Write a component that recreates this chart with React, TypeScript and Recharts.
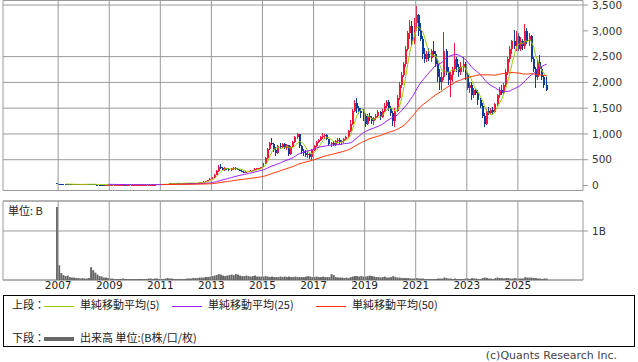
import {
  Bar,
  CartesianGrid,
  ComposedChart,
  Line,
  ReferenceArea,
  ReferenceLine,
  XAxis,
  YAxis,
} from "recharts";

// monthly candles [open, high, low, close], starting Dec 2006
const START_YEAR = 2006;
const START_MONTH = 12;

const candles2006to2010: number[][] = [
  [40, 50, 30, 35],
  [35, 38, 30, 32], [32, 34, 29, 30], [30, 32, 27, 28], [28, 30, 26, 27], [27, 28, 24, 25], [25, 27, 23, 24],
  [24, 25, 21, 22], [22, 24, 21, 22], [22, 23, 20, 21], [21, 22, 19, 20], [20, 21, 19, 20], [20, 23, 19, 22],
  [22, 27, 21, 25], [25, 30, 24, 28], [28, 29, 23, 24], [24, 25, 21, 22], [22, 23, 19, 20], [20, 21, 18, 19],
  [19, 20, 17, 18], [18, 19, 16, 17], [17, 18, 15, 16], [16, 17, 14, 15], [15, 16, 14, 15], [15, 16, 14, 15],
  [15, 16, 14, 15], [15, 16, 14, 15], [15, 17, 14, 16], [16, 17, 15, 16], [16, 18, 15, 17], [17, 18, 16, 17],
  [17, 18, 16, 17], [17, 18, 15, 16], [16, 17, 15, 16], [16, 17, 15, 16], [16, 18, 15, 17], [17, 18, 16, 17],
  [17, 18, 16, 17], [17, 18, 16, 17], [17, 19, 16, 18], [18, 19, 17, 18], [18, 19, 17, 18], [18, 19, 17, 18],
  [18, 19, 17, 18], [18, 19, 17, 18], [18, 20, 17, 19], [19, 20, 18, 19], [19, 21, 18, 20], [20, 21, 19, 20],
];

const candles2011to2015: number[][] = [
  [20, 22, 19, 21], [21, 24, 20, 22], [22, 28, 21, 26], [26, 38, 25, 35], [35, 46, 33, 42], [42, 48, 40, 45],
  [45, 47, 41, 44], [44, 45, 40, 42], [42, 43, 38, 40], [40, 44, 39, 42], [42, 47, 41, 45], [45, 50, 44, 48],
  [48, 52, 46, 50], [50, 53, 45, 48], [48, 50, 44, 46], [46, 48, 43, 45], [45, 52, 44, 50], [50, 57, 49, 55],
  [55, 62, 54, 60], [60, 68, 58, 65], [65, 78, 63, 75], [75, 88, 72, 85], [85, 105, 82, 100], [100, 140, 98, 130],
  [130, 170, 125, 160], [160, 230, 150, 210], [210, 300, 200, 280], [280, 400, 270, 350], [350, 410, 320, 340], [340, 360, 290, 310],
  [310, 350, 290, 330], [330, 345, 300, 320], [320, 330, 280, 300], [300, 340, 290, 330], [330, 360, 310, 340], [340, 355, 300, 320],
  [320, 340, 300, 310], [310, 320, 280, 290], [290, 300, 260, 270], [270, 280, 240, 255], [255, 275, 245, 270], [270, 290, 260, 280],
  [280, 300, 270, 290], [290, 310, 280, 300], [300, 330, 290, 320], [320, 340, 305, 330], [330, 345, 315, 335], [335, 360, 325, 350],
  [350, 460, 340, 440], [440, 560, 420, 540], [540, 720, 520, 700], [700, 850, 680, 820], [820, 920, 780, 800], [800, 820, 650, 680],
  [680, 740, 580, 640], [640, 780, 620, 760], [760, 820, 700, 740], [740, 830, 720, 800], [800, 820, 700, 720], [720, 800, 680, 780],
];

const candles2016to2020: number[][] = [
  [780, 790, 580, 620], [620, 760, 600, 740], [740, 860, 720, 840], [840, 960, 820, 940], [940, 1020, 900, 990], [990, 1000, 720, 760],
  [760, 780, 620, 660], [660, 700, 580, 640], [640, 680, 560, 600], [600, 660, 540, 620], [620, 640, 520, 560], [560, 700, 500, 680],
  [680, 780, 660, 760], [760, 860, 740, 840], [840, 900, 820, 880], [880, 960, 860, 940], [940, 1010, 900, 960], [960, 1000, 900, 980],
  [980, 990, 880, 900], [900, 910, 760, 800], [800, 850, 740, 820], [820, 860, 760, 780], [780, 880, 770, 860], [860, 920, 820, 880],
  [880, 920, 800, 840], [840, 880, 780, 860], [860, 920, 820, 900], [900, 960, 880, 940], [940, 1080, 920, 1060], [1060, 1280, 1040, 1200],
  [1200, 1480, 1180, 1450], [1450, 1650, 1420, 1600], [1600, 1690, 1400, 1500], [1500, 1550, 1380, 1450], [1450, 1500, 1300, 1400], [1400, 1480, 1250, 1350],
  [1350, 1400, 1130, 1200], [1200, 1380, 1180, 1350], [1350, 1400, 1250, 1300], [1300, 1350, 1200, 1250], [1250, 1320, 1180, 1300], [1300, 1380, 1270, 1350],
  [1350, 1460, 1300, 1420], [1420, 1450, 1280, 1320], [1320, 1480, 1300, 1450], [1450, 1600, 1420, 1550], [1550, 1660, 1500, 1620], [1620, 1650, 1450, 1500],
  [1500, 1550, 1350, 1400], [1400, 1450, 1150, 1250], [1250, 1500, 1130, 1450], [1450, 1750, 1420, 1700], [1700, 2000, 1650, 1950], [1950, 2200, 1900, 2150],
  [2150, 2400, 2100, 2350], [2350, 2700, 2300, 2650], [2650, 3000, 2600, 2950], [2950, 3210, 2850, 3100], [3100, 3200, 2700, 2800], [2800, 3250, 2750, 3150],
];

const candles2021to2026: number[][] = [
  [3150, 3480, 3000, 3300], [3300, 3320, 2900, 3000], [3000, 3150, 2800, 2850], [2850, 2900, 2450, 2550], [2550, 2660, 2370, 2450], [2450, 2600, 2400, 2550],
  [2550, 2660, 2420, 2480], [2480, 2650, 2400, 2600], [2600, 2800, 2500, 2550], [2550, 2600, 2300, 2350], [2350, 2450, 2000, 2100], [2100, 2250, 1850, 2000],
  [2000, 2200, 1850, 2100], [2100, 2980, 2050, 2600], [2600, 2650, 2150, 2200], [2200, 2300, 1950, 2050], [2050, 2200, 1710, 2150], [2150, 2300, 2000, 2250],
  [2250, 2760, 2200, 2450], [2450, 2500, 2200, 2300], [2300, 2350, 2100, 2200], [2200, 2400, 2150, 2300], [2300, 2500, 2200, 2350], [2350, 2400, 2050, 2150],
  [2150, 2200, 1850, 1900], [1900, 2000, 1800, 1950], [1950, 2000, 1650, 1750], [1750, 1900, 1700, 1850], [1850, 1900, 1750, 1800], [1800, 1850, 1560, 1650],
  [1650, 1700, 1500, 1550], [1550, 1600, 1300, 1350], [1350, 1400, 1130, 1200], [1200, 1480, 1180, 1450], [1450, 1520, 1360, 1400], [1400, 1500, 1380, 1460],
  [1460, 1520, 1380, 1420], [1420, 1600, 1400, 1580], [1580, 1780, 1550, 1750], [1750, 1910, 1700, 1850], [1850, 1950, 1750, 1800], [1800, 1980, 1780, 1950],
  [1950, 2250, 1920, 2200], [2200, 2500, 2150, 2450], [2450, 2700, 2400, 2650], [2650, 2830, 2550, 2800], [2800, 3020, 2650, 2700], [2700, 3000, 2600, 2900],
  [2900, 2950, 2600, 2650], [2650, 2880, 2600, 2800], [2800, 2850, 2620, 2700], [2700, 3130, 2650, 3000], [3000, 3050, 2750, 2800], [2800, 2960, 2700, 2900],
  [2900, 2920, 2400, 2450], [2450, 2500, 2200, 2250], [2250, 2300, 1890, 2100], [2100, 2450, 2050, 2400], [2400, 2530, 2150, 2250], [2250, 2300, 2050, 2100],
  [2100, 2150, 1900, 1950], [1950, 2100, 1830, 1850],
];

// monthly volume, in billions of shares
const volumes: number[] = [
  1.49,
  0.3, 0.14, 0.1, 0.08, 0.09, 0.06, 0.05, 0.05, 0.04, 0.04, 0.03, 0.04,
  0.03, 0.03, 0.04, 0.26, 0.2, 0.15, 0.11, 0.08, 0.07, 0.05, 0.05, 0.04,
  0.03, 0.03, 0.02, 0.02, 0.02, 0.02, 0.03, 0.02, 0.02, 0.02, 0.02, 0.02,
  0.02, 0.02, 0.02, 0.02, 0.02, 0.02, 0.03, 0.03, 0.02, 0.03, 0.03, 0.02,
  0.02, 0.02, 0.03, 0.04, 0.03, 0.03, 0.02, 0.02, 0.02, 0.02, 0.02, 0.02,
  0.03, 0.03, 0.03, 0.04, 0.04, 0.04, 0.05, 0.05, 0.05, 0.06, 0.06, 0.07,
  0.08, 0.09, 0.1, 0.12, 0.11, 0.09, 0.08, 0.09, 0.1, 0.11, 0.1, 0.12,
  0.11, 0.09, 0.08, 0.08, 0.09, 0.08, 0.07, 0.08, 0.09, 0.07, 0.07, 0.07,
  0.07, 0.08, 0.07, 0.06, 0.07, 0.06, 0.06, 0.06, 0.07, 0.06, 0.07, 0.06,
  0.07, 0.06, 0.06, 0.07, 0.06, 0.06, 0.06, 0.06, 0.07, 0.08, 0.07, 0.06,
  0.06, 0.07, 0.06, 0.06, 0.07, 0.06, 0.06, 0.06, 0.12, 0.1, 0.06, 0.05,
  0.05, 0.05, 0.04, 0.05, 0.04, 0.06, 0.07, 0.08, 0.08, 0.07, 0.08, 0.07,
  0.07, 0.08, 0.09, 0.08, 0.07, 0.06, 0.06, 0.05, 0.06, 0.07, 0.05, 0.05,
  0.06, 0.08, 0.06, 0.05, 0.05, 0.04, 0.04, 0.04, 0.04, 0.03, 0.03, 0.03,
  0.04, 0.03, 0.03, 0.03, 0.02, 0.02, 0.02, 0.02, 0.02, 0.02, 0.03, 0.03,
  0.03, 0.05, 0.04, 0.03, 0.03, 0.02, 0.03, 0.02, 0.02, 0.02, 0.02, 0.03,
  0.03, 0.02, 0.04, 0.03, 0.03, 0.02, 0.02, 0.04, 0.05, 0.04, 0.03, 0.03,
  0.02, 0.04, 0.05, 0.04, 0.04, 0.03, 0.04, 0.04, 0.03, 0.03, 0.04, 0.03,
  0.03, 0.03, 0.03, 0.06, 0.05, 0.05, 0.05, 0.04, 0.04, 0.03, 0.03, 0.02,
  0.03, 0.03,
];

const yearTicks = [2007, 2009, 2011, 2013, 2015, 2017, 2019, 2021, 2023, 2025];
const priceTicks = [0, 500, 1000, 1500, 2000, 2500, 3000, 3500];
const volumeTicks = [1];

const X_DOMAIN: [number, number] = [2004.84, 2027.55];
const PRICE_DOMAIN: [number, number] = [-97, 3588];
const VOLUME_DOMAIN: [number, number] = [0, 1.612];

const UP = "#f5143c";
const DOWN = "#0a3c9c";
const GRID = "#9a9a9a";
const MA5 = "#99cc00";
const MA25 = "#9b1cf5";
const MA50 = "#ff3300";
const FONT = "'DejaVu Sans', Verdana, sans-serif";
const JP_FONT = "'Noto Sans CJK JP', sans-serif";

const candles = [...candles2006to2010, ...candles2011to2015, ...candles2016to2020, ...candles2021to2026];
const closes = candles.map((c) => c[3]);

function movingAverage(i: number, n: number) {
  if (i < n - 1) return null;
  let sum = 0;
  for (let k = i - n + 1; k <= i; k++) sum += closes[k];
  return sum / n;
}

const rows = candles.map(([open, high, low, close], i) => {
  const m = START_MONTH - 1 + i;
  return {
    t: START_YEAR + (m + 0.5) / 12,
    open,
    high,
    low,
    close,
    range: [low, high],
    volume: volumes[i],
    ma5: movingAverage(i, 5),
    ma25: movingAverage(i, 25),
    ma50: movingAverage(i, 50),
  };
});

function Candle(props: any) {
  const { x, width, payload } = props;
  let { y, height } = props;
  if (height < 0) {
    y += height;
    height = -height;
  }
  const { open, close, high, low } = payload;
  const color = close >= open ? UP : DOWN;
  const ratio = high === low ? 0 : height / (high - low);
  const left = Math.round(x + width / 2) - 1;
  const yOpen = y + (high - open) * ratio;
  const yClose = y + (high - close) * ratio;
  const top = Math.min(yOpen, yClose);
  const bodyH = Math.max(1, Math.abs(yOpen - yClose));
  return (
    <g shapeRendering="crispEdges">
      <rect x={left} y={y} width={1} height={Math.max(height, 1)} fill={color} />
      <rect x={left} y={top} width={2} height={bodyH} fill={color} />
    </g>
  );
}

const fmt = (v: number) => String(v).replace(/\B(?=(\d{3})+(?!\d))/g, ",");

function LegendLine({ color, width }: { color: string; width: number }) {
  return (
    <span
      style={{
        display: "inline-block",
        width: 30,
        height: width,
        background: color,
        verticalAlign: "middle",
        margin: "0 6px 0 0",
      }}
    />
  );
}

export default function App() {
  return (
    <div
      style={{
        position: "absolute",
        left: 0,
        top: 0,
        width: 638,
        height: 362,
        background: "#fff",
        fontFamily: FONT,
        overflow: "hidden",
      }}
    >
      <div style={{ position: "absolute", left: 0, top: 0 }}>
        <ComposedChart width={638} height={191} data={rows} margin={{ top: 0.5, right: 0, bottom: 0.5, left: 3 }}>
          <CartesianGrid vertical={false} stroke={GRID} />
          <XAxis dataKey="t" type="number" domain={X_DOMAIN} allowDataOverflow hide />
          <YAxis
            orientation="right"
            width={55}
            domain={PRICE_DOMAIN}
            allowDataOverflow
            ticks={priceTicks}
            tickFormatter={fmt}
            axisLine={false}
            tickLine={{ stroke: GRID }}
            tickSize={5}
            tickMargin={4}
            tick={{ fill: "#333", fontSize: 10.5, fontFamily: FONT }}
          />
          {yearTicks.map((yr) => (
            <ReferenceLine key={yr} x={yr} stroke={GRID} />
          ))}
          <ReferenceArea
            x1={X_DOMAIN[0]}
            x2={X_DOMAIN[1]}
            y1={PRICE_DOMAIN[0]}
            y2={PRICE_DOMAIN[1]}
            fill="none"
            fillOpacity={0}
            stroke={GRID}
          />
          <Bar dataKey="range" barSize={2} isAnimationActive={false} shape={(p: any) => <Candle {...p} />} />
          <Line dataKey="ma5" stroke={MA5} strokeWidth={1} dot={false} activeDot={false} isAnimationActive={false} />
          <Line dataKey="ma25" stroke={MA25} strokeWidth={1} dot={false} activeDot={false} isAnimationActive={false} />
          <Line dataKey="ma50" stroke={MA50} strokeWidth={1} dot={false} activeDot={false} isAnimationActive={false} />
        </ComposedChart>
      </div>

      <div style={{ position: "absolute", left: 0, top: 200 }}>
        <ComposedChart width={638} height={96} data={rows} margin={{ top: 1, right: 0, bottom: 0, left: 3 }}>
          <CartesianGrid vertical={false} stroke={GRID} />
          <XAxis
            dataKey="t"
            type="number"
            domain={X_DOMAIN}
            allowDataOverflow
            ticks={yearTicks}
            height={16}
            axisLine={false}
            tickLine={false}
            tickSize={0}
            tickMargin={2}
            tick={{ fill: "#222", fontSize: 10.5, fontFamily: FONT }}
          />
          <YAxis
            orientation="right"
            width={55}
            domain={VOLUME_DOMAIN}
            allowDataOverflow
            ticks={volumeTicks}
            tickFormatter={(v: number) => `${v}B`}
            axisLine={false}
            tickLine={{ stroke: GRID }}
            tickSize={5}
            tickMargin={4}
            tick={{ fill: "#333", fontSize: 10.5, fontFamily: FONT }}
          />
          {yearTicks.map((yr) => (
            <ReferenceLine key={yr} x={yr} stroke={GRID} />
          ))}
          <ReferenceArea
            x1={X_DOMAIN[0]}
            x2={X_DOMAIN[1]}
            y1={VOLUME_DOMAIN[0]}
            y2={VOLUME_DOMAIN[1]}
            fill="none"
            fillOpacity={0}
            stroke={GRID}
          />
          <Bar dataKey="volume" barSize={2} fill="#666" isAnimationActive={false} />
        </ComposedChart>
      </div>
      <div style={{ position: "absolute", left: 8, top: 202, fontSize: 11, fontFamily: JP_FONT, color: "#222" }}>
        単位: B
      </div>

      <div
        style={{
          position: "absolute",
          left: 3,
          top: 295,
          width: 630,
          height: 50,
          border: "1px solid #000",
          fontFamily: JP_FONT,
          fontSize: 11,
          color: "#222",
        }}
      >
        <div style={{ position: "absolute", left: 8, top: 0, height: 16, lineHeight: "16px", whiteSpace: "nowrap" }}>
          <span style={{ display: "inline-block", width: 32 }}>上段：</span>
          <LegendLine color={MA5} width={1} />
          <span style={{ display: "inline-block", width: 92 }}>単純移動平均(5)</span>
          <LegendLine color={MA25} width={1} />
          <span style={{ display: "inline-block", width: 108 }}>単純移動平均(25)</span>
          <LegendLine color={MA50} width={1} />
          <span>単純移動平均(50)</span>
        </div>
        <div style={{ position: "absolute", left: 8, top: 33, height: 16, lineHeight: "16px", whiteSpace: "nowrap" }}>
          <span style={{ display: "inline-block", width: 32 }}>下段：</span>
          <LegendLine color="#666" width={4} />
          <span>出来高 単位:(B株/口/枚)</span>
        </div>
      </div>

      <div
        style={{
          position: "absolute",
          right: 21,
          top: 350,
          height: 12,
          lineHeight: "12px",
          fontSize: 11,
          fontFamily: FONT,
          color: "#444",
          whiteSpace: "nowrap",
        }}
      >
        (c)Quants Research Inc.
      </div>
    </div>
  );
}
